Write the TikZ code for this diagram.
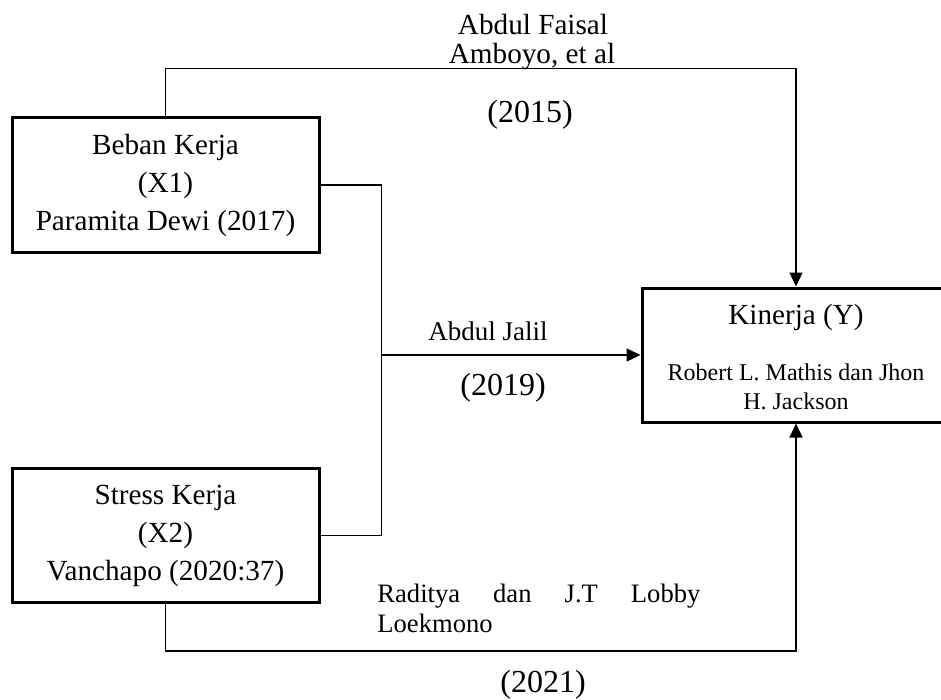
\documentclass[tikz,border=0pt]{standalone}
\usepackage{fontspec}
\setmainfont{Liberation Serif}
\usetikzlibrary{arrows.meta}
\tikzstyle{var box}=[
        draw = black,
        line width = 1.5pt,
        minimum width = 153.5pt,
        minimum height = 67pt,
        inner sep = 0pt,
        align = center,
        rectangle
    ]
\tikzstyle{wire}=[
    line width = 0.6pt
]
\tikzstyle{link}=[
    line width = 0.6pt,
    -{Triangle[length=7pt, width=6.5pt]}
]
\tikzstyle{year}=[
    font = \fontsize{16}{19}\selectfont
]

\begin{document}
\begin{tikzpicture}[x=0.5pt, y=-0.5pt, inner sep=0pt, font=\fontsize{14.6}{19}\selectfont]
        \useasboundingbox (0,0) rectangle (941,700);
        \clip (0,0) rectangle (941,700);

        \node[var box] (x1) at (165.5,185) {Beban Kerja\\(X1)\\Paramita Dewi (2017)};
        \node[var box] (x2) at (165.5,535.5) {Stress Kerja\\(X2)\\Vanchapo (2020:37)};
        \node[var box, minimum width = 154pt] (y) at (796,355) {};
        \node (ytitle) at (796,317) {Kinerja (Y)};
        \node[font=\fontsize{12}{14.5}\selectfont, align=center] (yref) at (796,387) {Robert L. Mathis dan Jhon\\H. Jackson};

        % labels
        \node (faisal) at (533,25) {Abdul Faisal};
        \node (amboyo) at (532,57) {Amboyo, et al};
        \node[year] (y2015) at (530,115) {(2015)};
        \node[font=\fontsize{13.5}{16}\selectfont] (jalil) at (488,331) {Abdul Jalil};
        \node[year] (y2019) at (503,388) {(2019)};
        \node[anchor=west, text width=161.5pt, align=left, font=\fontsize{13.3}{15}\selectfont] (raditya) at (377,608) {Raditya\hfill dan\hfill J.T\hfill Lobby\\Loekmono};
        \node[year] (y2021) at (543,685) {(2021)};

        \coordinate (jn) at (380.5,355);
        \draw[link] (x1.north) -- ++(0,-48) -| (y.north);
        \draw[wire] (x1.east) -- ++(61,0) |- (x2.east);
        \draw[link] (jn) -- (y.west);
        \draw[link] (x2.south) -- ++(0,47) -| (y.south);

    \end{tikzpicture}
\end{document}
